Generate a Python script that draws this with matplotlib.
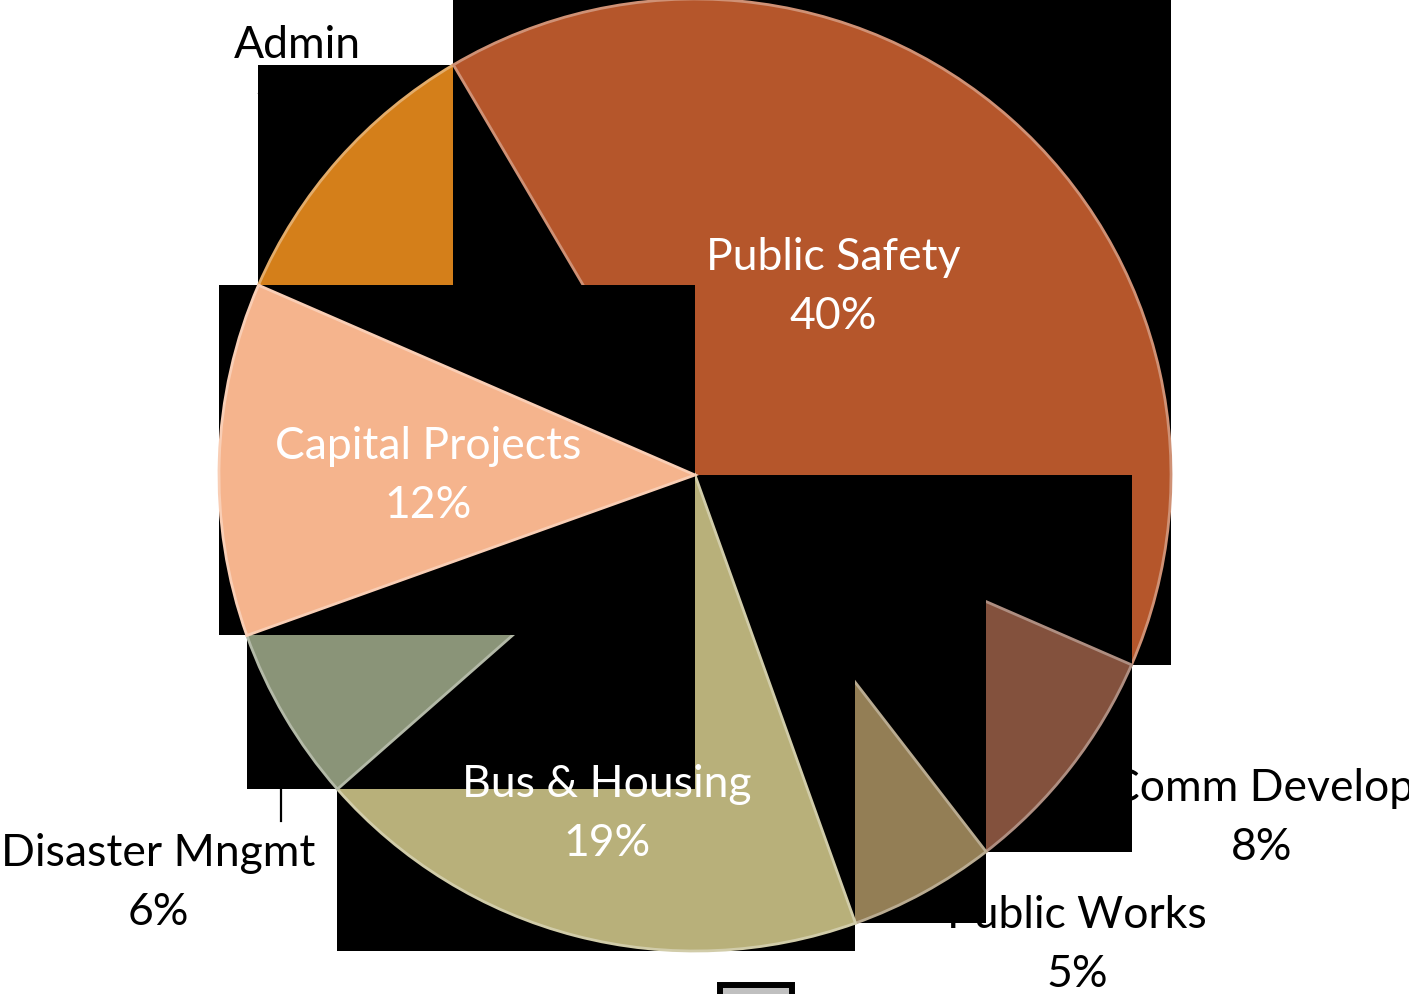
import numpy as np
import matplotlib
matplotlib.use("Agg")
import matplotlib.pyplot as plt
from matplotlib.patches import Rectangle
from matplotlib.colors import to_rgb

W, H = 1409, 995

depts = ["Admin", "Public Safety", "Comm Develop", "Public Works",
         "Bus & Housing", "Disaster Mngmt", "Capital Projects"]
shares = [10, 40, 8, 5, 19, 6, 12]
colors = ["#D47F1A", "#B5562B", "#83513D", "#937E55",
          "#B8B07A", "#8A9478", "#F5B48D"]
inside = ["Public Safety", "Capital Projects", "Bus & Housing"]

plt.rcParams["font.family"] = ["Lato", "DejaVu Sans"]
fig = plt.figure(figsize=(W/100, H/100), dpi=100)
ax = fig.add_axes([0, 0, 1, 1])

cx, cy, R = 695, H-476, 476
wedges, _ = ax.pie(shares, colors=colors, startangle=156.5, counterclock=False,
                   center=(cx, cy), radius=R)
ax.set_xlim(0, W); ax.set_ylim(0, H); ax.axis("off")

def lighter(c, f=0.35):
    r, g, b = to_rgb(c)
    return (r+(1-r)*f, g+(1-g)*f, b+(1-b)*f)

# every slice sits on its own black bounding-box tile, stacked in data order
for i, (w, c) in enumerate(zip(wedges, colors)):
    t = np.radians(np.linspace(w.theta1, w.theta2, 256))
    xs = np.r_[w.center[0], w.center[0]+w.r*np.cos(t)]
    ys = np.r_[w.center[1], w.center[1]+w.r*np.sin(t)]
    ax.add_patch(Rectangle((xs.min(), ys.min()), xs.max()-xs.min(), ys.max()-ys.min(),
                           fc="black", ec="none", zorder=2+2*i))
    w.set_edgecolor(lighter(c)); w.set_linewidth(2)
    w.set_zorder(3+2*i)

label_xy = {"Admin": (297, 75), "Public Safety": (833, 287), "Comm Develop": (1262, 818),
            "Public Works": (1077, 945), "Bus & Housing": (607, 814),
            "Disaster Mngmt": (158, 883), "Capital Projects": (428, 476)}
for name, v in zip(depts, shares):
    x, y = label_xy[name]
    ins = name in inside
    ax.text(x, H-y, f"{name}\n{v}%", ha="center", va="center", ma="center",
            fontsize=32, linespacing=1.55, color="white" if ins else "black",
            zorder=50 if ins else 1)

# leader line for Disaster Mngmt
ax.plot([281, 281], [H-760, H-822], color="black", lw=1.6, zorder=1)

# grey key box at the bottom edge
ax.add_patch(Rectangle((720, -20), 72, (H-986)+20, fc="#C0C0C0", ec="black", lw=4.3, zorder=60))

fig.savefig("out.png", dpi=100, facecolor="white")
